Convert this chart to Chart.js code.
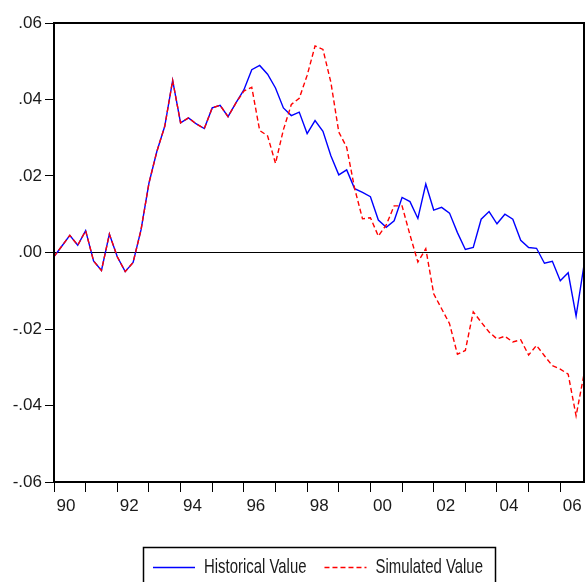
<!DOCTYPE html>
<html>
<head>
<meta charset="utf-8">
<script src="https://cdn.jsdelivr.net/npm/chart.js@4"></script>
<style>
  html, body { margin: 0; padding: 0; background: #fff; }
</style>
</head>
<body>
<canvas id="mycanvas" width="588" height="582"></canvas>
<script>
// quarterly, 1990Q1 - 2006Q4
var years = [1990, 1991, 1992, 1993, 1994, 1995, 1996, 1997, 1998, 1999, 2000, 2001, 2002, 2003, 2004, 2005, 2006];
var quarters = ["Q1", "Q2", "Q3", "Q4"];

var historical = [
  -0.0011, 0.0017, 0.0045, 0.0019, 0.0057, -0.0022, -0.0047, 0.0048, -0.0011, -0.0050, -0.0026, 0.0059,
  0.0181, 0.0264, 0.0330, 0.0450, 0.0339, 0.0352, 0.0336, 0.0324, 0.0378, 0.0385, 0.0355, 0.0391,
  0.0425, 0.0478, 0.0489, 0.0466, 0.0430, 0.0378, 0.0358, 0.0367, 0.0311, 0.0345, 0.0317, 0.0253,
  0.0203, 0.0216, 0.0167, 0.0157, 0.0146, 0.0085, 0.0066, 0.0083, 0.0144, 0.0133, 0.0089, 0.0179,
  0.0111, 0.0118, 0.0103, 0.0052, 0.0008, 0.0013, 0.0087, 0.0107, 0.0075, 0.0100, 0.0087, 0.0032,
  0.0013, 0.0011, -0.0028, -0.0023, -0.0074, -0.0053, -0.0166, -0.0033
];

var simulated = [
  -0.0011, 0.0017, 0.0045, 0.0019, 0.0057, -0.0022, -0.0047, 0.0048, -0.0011, -0.0050, -0.0026, 0.0059,
  0.0181, 0.0264, 0.0330, 0.0450, 0.0339, 0.0352, 0.0336, 0.0324, 0.0378, 0.0385, 0.0355, 0.0391,
  0.0422, 0.0432, 0.0319, 0.0305, 0.0233, 0.0321, 0.0387, 0.0403, 0.0463, 0.0540, 0.0531, 0.0445,
  0.0315, 0.0275, 0.0168, 0.0088, 0.0091, 0.0043, 0.0072, 0.0122, 0.0122, 0.0046, -0.0025, 0.0010,
  -0.0108, -0.0147, -0.0186, -0.0266, -0.0256, -0.0155, -0.0182, -0.0208, -0.0226, -0.0219, -0.0234, -0.0228,
  -0.0268, -0.0243, -0.0270, -0.0296, -0.0305, -0.0318, -0.0427, -0.0318
];

var labels = [];
for (var i in years) {
  for (var q in quarters) {
    labels.push(years[i] + quarters[q]);
  }
}

Chart.defaults.font.family = '"Liberation Sans", Arial, sans-serif';
Chart.defaults.font.size = 17;
Chart.defaults.color = "#1a1a1a";

// frame round the plot + boxed legend underneath
var framePlugin = {
  id: "frame",
  afterDatasetsDraw: function(chart) {
    var a = chart.chartArea;
    var ctx = chart.ctx;
    ctx.save();
    ctx.strokeStyle = "#000";
    ctx.lineWidth = 2;
    ctx.strokeRect(a.left, a.top, a.right - a.left, a.bottom - a.top);
    ctx.restore();
  },
  afterDraw: function(chart) {
    var ctx = chart.ctx;
    var squeeze = 0.71; // narrow type like the original
    ctx.save();
    ctx.strokeStyle = "#000";
    ctx.lineWidth = 1.5;
    ctx.strokeRect(143.5, 547.5, 352, 60);

    ctx.font = '21px "Liberation Sans", Arial, sans-serif';
    ctx.textBaseline = "middle";
    ctx.fillStyle = "#1a1a1a";
    var x = 153, y = 567;
    chart.data.datasets.forEach(function(ds) {
      ctx.beginPath();
      ctx.strokeStyle = ds.borderColor;
      ctx.lineWidth = 1.3;
      ctx.setLineDash(ds.borderDash || []);
      ctx.moveTo(x, y + 0.5);
      ctx.lineTo(x + 42, y + 0.5);
      ctx.stroke();
      ctx.setLineDash([]);

      ctx.save();
      ctx.translate(x + 51, y);
      ctx.scale(squeeze, 1);
      ctx.fillText(ds.label, 0, 0);
      ctx.restore();
      x = x + 51 + ctx.measureText(ds.label).width * squeeze + 18;
    });
    ctx.restore();
  }
};

var ctx = document.getElementById("mycanvas");

var LineGraph = new Chart(ctx, {
  type: "line",
  data: {
    labels: labels,
    datasets: [
      {
        label: "Historical Value",
        data: historical,
        borderColor: "#0000ff",
        borderWidth: 1.4,
        pointRadius: 0,
        tension: 0,
        fill: false,
        order: 1
      },
      {
        label: "Simulated Value",
        data: simulated,
        borderColor: "#ff0000",
        borderWidth: 1.4,
        borderDash: [5, 3],
        pointRadius: 0,
        tension: 0,
        fill: false,
        order: 0
      }
    ]
  },
  options: {
    responsive: false,
    animation: false,
    layout: { padding: { left: 0, right: 2, top: 23, bottom: 0 } },
    plugins: {
      legend: { display: false },
      tooltip: { enabled: false }
    },
    scales: {
      x: {
        type: "category",
        offset: false,
        border: { display: false },
        grid: {
          drawOnChartArea: false,
          tickLength: 10,
          tickWidth: 1,
          tickColor: function(c) { return c.index % 4 === 0 ? "#000" : "rgba(0,0,0,0)"; }
        },
        ticks: {
          autoSkip: false,
          maxRotation: 0,
          minRotation: 0,
          padding: 4,
          labelOffset: 12,
          callback: function(v, i) {
            return i % 8 === 0 ? labels[i].slice(2, 4) : "";
          }
        },
        afterFit: function(scale) { scale.height = 100; }
      },
      y: {
        min: -0.06,
        max: 0.06,
        border: { display: false },
        grid: {
          color: function(c) { return c.tick && Math.abs(c.tick.value) < 1e-9 ? "#000" : "rgba(0,0,0,0)"; },
          lineWidth: 1,
          tickColor: "#000",
          tickLength: 9
        },
        ticks: {
          stepSize: 0.02,
          padding: 3,
          callback: function(v) {
            var s = Math.abs(v).toFixed(2).replace(/^0/, "");
            return (v < -1e-9 ? "-" : "") + s;
          }
        },
        afterFit: function(scale) { scale.width = 54; }
      }
    }
  },
  plugins: [framePlugin]
});
</script>
</body>
</html>
